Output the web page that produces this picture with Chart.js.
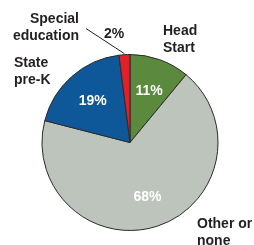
<!DOCTYPE html>
<html>
<head>
<meta charset="utf-8">
<script src="https://cdn.jsdelivr.net/npm/chart.js@4"></script>
<style>
  html, body { margin: 0; padding: 0; background: #ffffff; }
  #box { width: 254px; height: 245px; position: relative; }
</style>
</head>
<body>
<div id="box"><canvas id="myChart"></canvas></div>
<script>
// Categories, clockwise from 12 o'clock
const categories = ['Head Start', 'Other or none', 'State pre-K', 'Special education'];
const shares = [11, 68, 19, 2];
const pctLabels = ['11%', '68%', '19%', '2%'];
const sliceColors = ['#5b8a3f', '#bcc4bc', '#0e5798', '#e2202a'];

const FONT = 'bold 14px "Liberation Sans", Arial, sans-serif';
const INK = '#231f20';

// Draw percentages inside slices and the category names outside
const labelPlugin = {
    id: 'labelPlugin',
    afterDatasetsDraw(chart) {
        const ctx = chart.ctx;
        const arcs = chart.getDatasetMeta(0).data;
        const first = arcs[0];
        const cx = first.x, cy = first.y, R = first.outerRadius;

        ctx.save();
        ctx.font = FONT;
        ctx.textBaseline = 'alphabetic';
        ctx.textAlign = 'center';

        // inside labels (not the tiny red one)
        arcs.forEach((arc, i) => {
            if (i === 3) return;
            const p = arc.getProps(['startAngle', 'endAngle'], true);
            const mid = (p.startAngle + p.endAngle) / 2;
            const r = R * 0.64;
            ctx.fillStyle = '#ffffff';
            ctx.fillText(pctLabels[i], cx + Math.cos(mid) * r, cy + Math.sin(mid) * r + 5);
        });

        // outside names
        ctx.fillStyle = INK;
        ctx.textAlign = 'left';
        ctx.fillText('Head', cx + 33, cy - 108);
        ctx.fillText('Start', cx + 33, cy - 91);
        ctx.fillText('State', cx - 116, cy - 76);
        ctx.fillText('pre-K', cx - 116, cy - 59);
        ctx.fillText('Other or', cx + 67, cy + 85);
        ctx.fillText('none', cx + 67, cy + 102);
        ctx.textAlign = 'right';
        ctx.fillText('Special', cx - 51, cy - 120);
        ctx.fillText('education', cx - 51, cy - 103);

        // small red slice: value above with a leader line
        ctx.textAlign = 'left';
        ctx.fillText(pctLabels[3], cx - 26, cy - 105);
        const red = arcs[3].getProps(['startAngle', 'endAngle'], true);
        const a = (red.startAngle + red.endAngle) / 2;
        ctx.strokeStyle = '#231f20';
        ctx.lineWidth = 1;
        ctx.beginPath();
        ctx.moveTo(cx + Math.cos(a) * (R + 1), cy + Math.sin(a) * (R + 1));
        ctx.lineTo(cx - 44, cy - 114);
        ctx.stroke();
        ctx.restore();
    }
};

let myChart = new Chart(document.getElementById('myChart'), {
    type: 'pie',
    data: {
        labels: categories,
        datasets: [{
            data: shares,
            backgroundColor: sliceColors,
            borderColor: '#2b2b2b',
            borderWidth: 1
        }]
    },
    options: {
        responsive: true,
        maintainAspectRatio: false,
        animation: false,
        layout: {
            padding: { left: 41, right: 35, top: 54, bottom: 14 }
        },
        plugins: {
            legend: { display: false },
            tooltip: { enabled: false }
        }
    },
    plugins: [labelPlugin]
});
</script>
</body>
</html>
